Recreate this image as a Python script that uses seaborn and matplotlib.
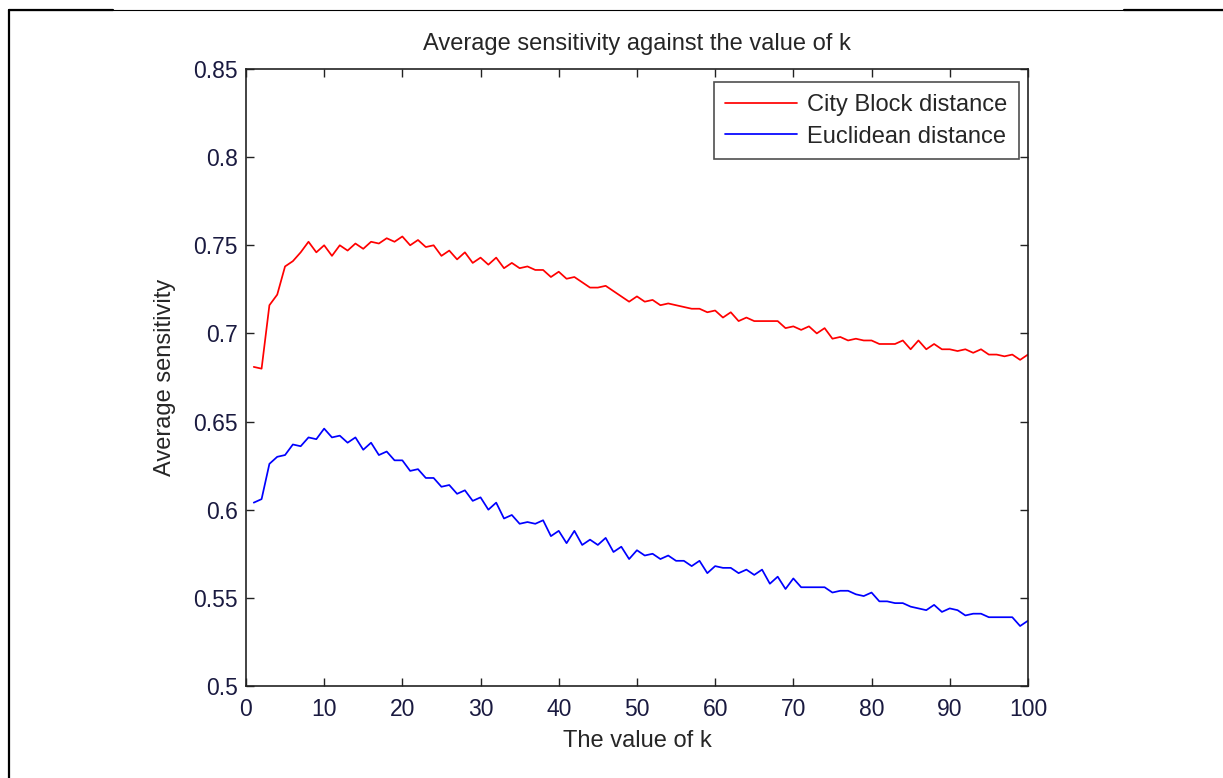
# Average sensitivity against k for two distance metrics (MATLAB-style look)
import numpy as np
import pandas as pd
import matplotlib
matplotlib.use("Agg")
import matplotlib.pyplot as plt
from matplotlib.lines import Line2D
import seaborn as sns

# Values, k = 1..100
k_values = list(range(1, 101))

city_block = [
    0.681, 0.680, 0.716, 0.722, 0.738, 0.741, 0.746, 0.752, 0.746, 0.750,
    0.744, 0.750, 0.747, 0.751, 0.748, 0.752, 0.751, 0.754, 0.752, 0.755,
    0.750, 0.753, 0.749, 0.750, 0.744, 0.747, 0.742, 0.746, 0.740, 0.743,
    0.739, 0.743, 0.737, 0.740, 0.737, 0.738, 0.736, 0.736, 0.732, 0.735,
    0.731, 0.732, 0.729, 0.726, 0.726, 0.727, 0.724, 0.721, 0.718, 0.721,
    0.718, 0.719, 0.716, 0.717, 0.716, 0.715, 0.714, 0.714, 0.712, 0.713,
    0.709, 0.712, 0.707, 0.709, 0.707, 0.707, 0.707, 0.707, 0.703, 0.704,
    0.702, 0.704, 0.700, 0.703, 0.697, 0.698, 0.696, 0.697, 0.696, 0.696,
    0.694, 0.694, 0.694, 0.696, 0.691, 0.696, 0.691, 0.694, 0.691, 0.691,
    0.690, 0.691, 0.689, 0.691, 0.688, 0.688, 0.687, 0.688, 0.685, 0.688]

euclidean = [
    0.604, 0.606, 0.626, 0.630, 0.631, 0.637, 0.636, 0.641, 0.640, 0.646,
    0.641, 0.642, 0.638, 0.641, 0.634, 0.638, 0.631, 0.633, 0.628, 0.628,
    0.622, 0.623, 0.618, 0.618, 0.613, 0.614, 0.609, 0.611, 0.605, 0.607,
    0.600, 0.604, 0.595, 0.597, 0.592, 0.593, 0.592, 0.594, 0.585, 0.588,
    0.581, 0.588, 0.580, 0.583, 0.580, 0.584, 0.576, 0.579, 0.572, 0.577,
    0.574, 0.575, 0.572, 0.574, 0.571, 0.571, 0.568, 0.571, 0.564, 0.568,
    0.567, 0.567, 0.564, 0.566, 0.563, 0.566, 0.558, 0.562, 0.555, 0.561,
    0.556, 0.556, 0.556, 0.556, 0.553, 0.554, 0.554, 0.552, 0.551, 0.553,
    0.548, 0.548, 0.547, 0.547, 0.545, 0.544, 0.543, 0.546, 0.542, 0.544,
    0.543, 0.540, 0.541, 0.541, 0.539, 0.539, 0.539, 0.539, 0.534, 0.537]

series_names = ["City Block distance", "Euclidean distance"]
x_ticks = list(range(0, 101, 10))
y_ticks = [0.5, 0.55, 0.6, 0.65, 0.7, 0.75, 0.8, 0.85]
y_tick_labels = ["0.5", "0.55", "0.6", "0.65", "0.7", "0.75", "0.8", "0.85"]

df = pd.DataFrame({
    "k": k_values * 2,
    "sensitivity": city_block + euclidean,
    "metric": [series_names[0]] * len(k_values) + [series_names[1]] * len(k_values)})

sns.set_style("white")
plt.rcParams["font.family"] = ["Liberation Sans", "DejaVu Sans"]

fig = plt.figure(figsize=(12.23, 7.78), dpi=100)
ax = fig.add_axes([0.2011, 0.1183, 0.6394, 0.7930])

sns.lineplot(
    data=df, x="k", y="sensitivity", hue="metric",
    palette=["#ff0000", "#0000ff"], linewidth=1.25, ax=ax)

ax.set_xlim(0, 100)
ax.set_ylim(0.5, 0.85)
ax.set_xticks(x_ticks)
ax.set_yticks(y_ticks)
ax.set_yticklabels(y_tick_labels)
ax.tick_params(direction="in", length=6, width=1, labelsize=16.5,
               top=True, right=True, bottom=True, left=True,
               colors="#222222", labelcolor="#1a1a40")
ax.tick_params(axis="x", pad=9)
ax.tick_params(axis="y", pad=6)
for side in ax.spines.values():
    side.set_color("#222222")
    side.set_linewidth(1.2)

ax.set_title("Average sensitivity against the value of k", fontsize=17, pad=14)
ax.set_xlabel("The value of k", fontsize=17, labelpad=6)
ax.set_ylabel("Average sensitivity", fontsize=17, labelpad=12)

leg = ax.legend(
    loc="upper right", bbox_to_anchor=(0.9885, 0.979), borderaxespad=0,
    fontsize=17, frameon=True, fancybox=False, edgecolor="#222222",
    handlelength=3.05, handletextpad=0.4, borderpad=0.5, labelspacing=0.42)
leg.get_frame().set_linewidth(1.2)
for line in leg.get_lines():
    line.set_linewidth(1.25)

# Page frame around the figure (as in the scanned document)
top_y = 1 - 9.5 / 778
left_x = 9 / 1223
fig.add_artist(Line2D([left_x, 1], [top_y, top_y], color="black", lw=0.8,
                      transform=fig.transFigure))
fig.add_artist(Line2D([left_x, 113 / 1223], [top_y, top_y], color="black", lw=1.6,
                      transform=fig.transFigure))
fig.add_artist(Line2D([1124 / 1223, 1], [top_y, top_y], color="black", lw=1.6,
                      transform=fig.transFigure))
fig.add_artist(Line2D([left_x, left_x], [0, top_y], color="black", lw=1.6,
                      transform=fig.transFigure))

fig.savefig("out.png", dpi=100)
